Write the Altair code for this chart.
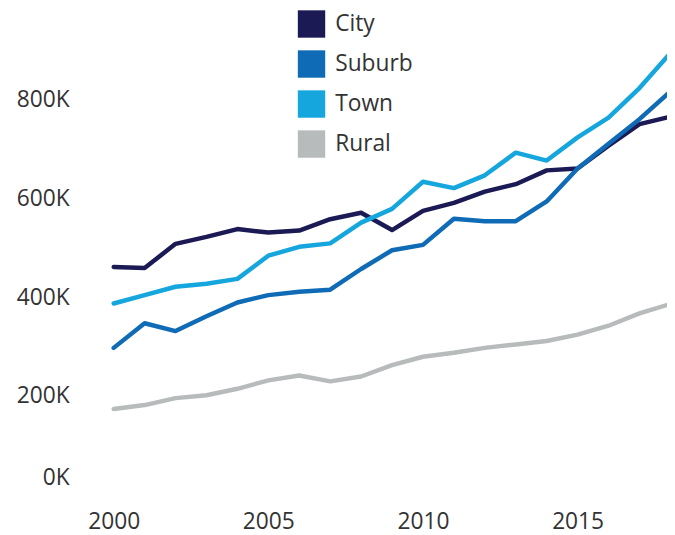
import altair as alt
import pandas as pd

years = list(range(2000, 2019))
city = [461, 459, 508, 522, 538, 531, 535, 558, 571, 536, 575, 591, 614, 629, 657, 661, 707, 751, 766]
suburb = [297, 347, 331, 361, 389, 404, 411, 415, 457, 495, 506, 559, 554, 554, 594, 661, 711, 761, 817]
town = [387, 404, 421, 427, 437, 484, 502, 509, 551, 579, 634, 621, 647, 693, 677, 724, 764, 824, 895]
rural = [173, 181, 195, 201, 214, 231, 241, 229, 239, 262, 279, 287, 297, 304, 311, 324, 342, 367, 386]

categories = ["City", "Suburb", "Town", "Rural"]
colors = ["#1b1a55", "#0f6bb5", "#15a6de", "#b8bbbc"]
series = {"City": city, "Suburb": suburb, "Town": town, "Rural": rural}
y_ticks = [0, 200000, 400000, 600000, 800000]
x_ticks = [2000, 2005, 2010, 2015]

rows = []
for cat in categories:
    for yr, v in zip(years, series[cat]):
        rows.append({"year": yr, "type": cat, "value": v * 1000})
df = pd.DataFrame(rows)

FONT = "Open Sans"
TXT = "#333333"

base = alt.Chart(df).encode(
    x=alt.X(
        "year:Q",
        scale=alt.Scale(domain=[1999.49, 2017.89], nice=False, zero=False),
        axis=alt.Axis(
            values=x_ticks, format="d", title=None, grid=False, domain=False,
            ticks=False, labelPadding=17, labelFontSize=23, labelFont=FONT,
            labelColor=TXT, labelFlush=False,
        ),
    ),
    y=alt.Y(
        "value:Q",
        scale=alt.Scale(domain=[0, 980000], nice=False),
        axis=alt.Axis(
            values=y_ticks, labelExpr="datum.value / 1000 + 'K'", title=None,
            grid=False, domain=False, ticks=False, labelPadding=29,
            labelFontSize=23, labelFont=FONT, labelColor=TXT, labelFlush=False,
            labelOffset={"condition": {"test": "datum.value === 0", "value": -17}, "value": 0},
        ),
    ),
    color=alt.Color(
        "type:N",
        scale=alt.Scale(domain=categories, range=colors),
        legend=alt.Legend(
            title=None, orient="none", legendX=202.2, legendY=-1,
            symbolType="square", symbolSize=768, symbolStrokeWidth=0,
            symbolOpacity=1, labelFontSize=23, labelFont=FONT, labelColor=TXT,
            labelOffset=10, rowPadding=12.5, padding=0,
        ),
    ),
)

points = base.mark_point(filled=True, shape="square", size=1, clip=True)
lines = base.mark_line(
    clip=True, strokeWidth=4.5, strokeCap="round", strokeJoin="round"
).encode(order=alt.Order("year:Q"))

chart = alt.layer(points, lines).properties(
    width=576,
    height=489,
    padding={"left": 91, "top": 0, "right": 0, "bottom": 38},
    autosize=alt.AutoSizeParams(type="none"),
).configure_view(stroke=None)

chart.save("out.html", embed_options={"renderer": "svg", "actions": False})
